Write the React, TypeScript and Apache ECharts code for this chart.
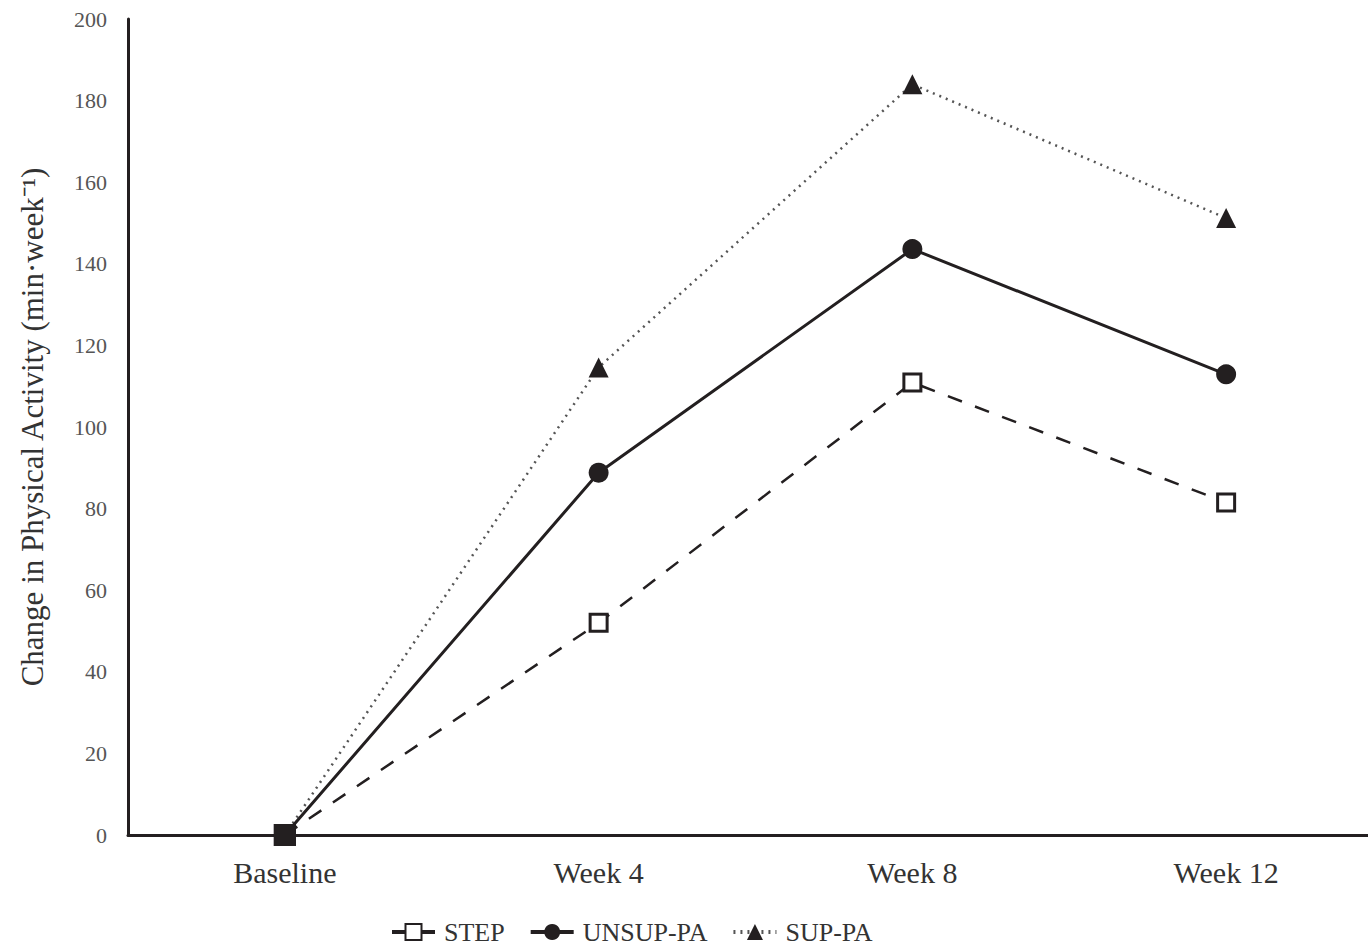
import React, { useEffect, useRef } from "react";
import * as echarts from "echarts";

const categories = ["Baseline", "Week 4", "Week 8", "Week 12"];
const stepValues = [0, 52, 110.9, 81.5];
const unsupValues = [0, 88.8, 143.6, 112.9];
const supValues = [0, 114.6, 184, 151.2];
const seriesNames = ["STEP", "UNSUP-PA", "SUP-PA"];
const yTicks = { min: 0, max: 200, interval: 20 };

const INK = "#231f20";
const SERIF = "'Liberation Serif', 'Times New Roman', serif";

export default function App() {
  const ref = useRef<HTMLDivElement>(null);
  useEffect(() => {
    if (!ref.current) return;
    const chart = echarts.init(ref.current, undefined, { renderer: "svg" });
    const baselineItem = (v: number) => ({
      value: v,
      symbol: "rect",
      symbolSize: 22,
      itemStyle: { color: INK, borderColor: INK, borderWidth: 0 },
    });
    chart.setOption({
      animation: false,
      backgroundColor: "#ffffff",
      textStyle: { fontFamily: SERIF },
      grid: { left: 128, top: 19, right: 0, bottom: 115, containLabel: false },
      xAxis: {
        type: "category",
        data: categories,
        boundaryGap: true,
        axisLine: { lineStyle: { color: INK, width: 3 } },
        axisTick: { show: false },
        axisLabel: { color: "#333", fontSize: 30, fontFamily: SERIF, margin: 22 },
        splitLine: { show: false },
      },
      yAxis: {
        type: "value",
        min: yTicks.min,
        max: yTicks.max,
        interval: yTicks.interval,
        name: "Change in Physical Activity (min·week⁻¹)",
        nameLocation: "middle",
        nameRotate: 90,
        nameGap: 80,
        nameTextStyle: { color: "#333", fontSize: 31, fontFamily: SERIF },
        axisLine: { show: true, lineStyle: { color: INK, width: 3 } },
        axisTick: { show: false },
        axisLabel: { color: "#555", fontSize: 22, fontFamily: SERIF, margin: 21 },
        splitLine: { show: false },
      },
      legend: {
        bottom: 0,
        left: 385,
        itemWidth: 43,
        itemHeight: 20,
        itemGap: 24,
        lineStyle: { width: 4 },
        textStyle: { color: "#333", fontSize: 26, fontFamily: SERIF, padding: [0, 0, 0, 4] },
        data: seriesNames,
      },
      series: [
        {
          name: seriesNames[2],
          type: "line",
          z: 2,
          data: [baselineItem(supValues[0]), ...supValues.slice(1)],
          symbol: "triangle",
          symbolSize: [20, 20],
          itemStyle: { color: INK },
          lineStyle: { color: "#555", width: 2.5, type: [2, 5] },
        },
        {
          name: seriesNames[1],
          type: "line",
          z: 3,
          data: [baselineItem(unsupValues[0]), ...unsupValues.slice(1)],
          symbol: "circle",
          symbolSize: 20,
          itemStyle: { color: INK },
          lineStyle: { color: INK, width: 3, type: "solid" },
        },
        {
          name: seriesNames[0],
          type: "line",
          z: 4,
          data: [baselineItem(stepValues[0]), ...stepValues.slice(1)],
          symbol: "rect",
          symbolSize: 17,
          itemStyle: { color: "#ffffff", borderColor: INK, borderWidth: 3 },
          lineStyle: { color: INK, width: 2.5, type: [15, 14] },
        },
      ],
    });
    return () => chart.dispose();
  }, []);
  return (
    <div style={{ position: "absolute", left: 0, top: 0, width: 1368, height: 950, overflow: "hidden" }}>
      <div ref={ref} style={{ position: "absolute", left: 0, top: 0, width: 1383, height: 950 }} />
    </div>
  );
}
